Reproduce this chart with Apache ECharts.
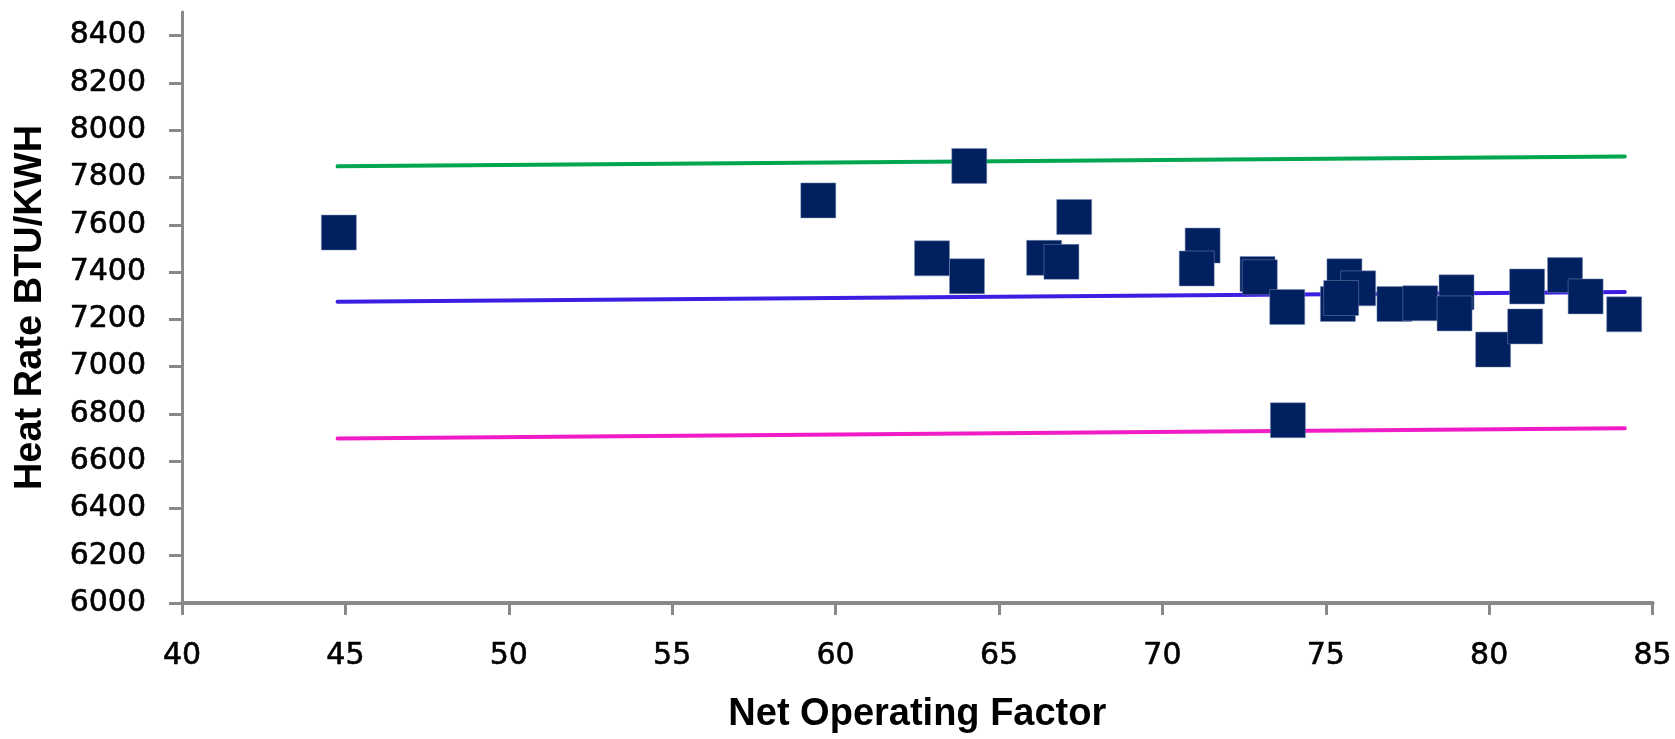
<!DOCTYPE html>
<html>
<head>
<meta charset="utf-8">
<script src="https://cdn.jsdelivr.net/npm/echarts@6/dist/echarts.min.js"></script>
<style>
html,body{margin:0;padding:0;background:#fff;}
#chart{width:1675px;height:739px;}
</style>
</head>
<body>
<div id="chart"></div>
<script>
// Net Operating Factor vs Heat Rate observations
const netOperatingFactor = [44.80, 59.47, 64.09, 62.95, 64.02, 67.30, 66.38, 66.91, 71.23, 71.05,
  72.91, 72.98, 73.82, 73.84, 75.57, 75.99, 75.37, 75.47, 77.10, 77.89, 79.00, 78.94, 80.12,
  81.16, 81.10, 82.32, 82.95, 84.13];
const heatRate = [7567, 7703, 7849, 7458, 7382, 7633, 7460, 7443, 7512, 7415,
  7392, 7378, 7252, 6773, 7382, 7331, 7265, 7290, 7265, 7268, 7314, 7225, 7072,
  7339, 7170, 7387, 7297, 7221];

// Control lines (start / end points)
const lineX = [44.76, 84.15];
const upperLimit = [7847, 7889];
const centerLine = [7274, 7316];
const lowerLimit = [6696, 6739];

const xTicks = [40, 45, 50, 55, 60, 65, 70, 75, 80, 85];
const yTicks = [6000, 6200, 6400, 6600, 6800, 7000, 7200, 7400, 7600, 7800, 8000, 8200, 8400];

const pairs = (xs, ys) => xs.map((x, i) => [x, ys[i]]);

const chart = echarts.init(document.getElementById('chart'), null, {renderer: 'canvas'});

const lineSeries = (data, color) => ({
  type: 'line',
  data: data,
  symbol: 'none',
  z: 2,
  lineStyle: {color: color, width: 4, cap: 'round'},
  silent: true
});

chart.setOption({
  animation: false,
  backgroundColor: '#fff',
  grid: {left: 182, right: 21.5, top: 12, bottom: 135.5, containLabel: false},
  xAxis: {
    type: 'value',
    min: 40, max: 85, interval: 5,
    name: 'Net Operating Factor',
    nameLocation: 'middle',
    nameGap: 93,
    nameTextStyle: {fontFamily: 'Liberation Sans', fontSize: 38, fontWeight: 'bold', color: '#000'},
    axisLine: {show: true, lineStyle: {color: '#898989', width: 4}},
    axisTick: {show: true, inside: false, length: 12, lineStyle: {color: '#898989', width: 3}, customValues: xTicks},
    axisLabel: {
      margin: 38, customValues: xTicks,
      fontFamily: 'DejaVu Sans', fontSize: 30, color: '#000',
      textBorderColor: '#000', textBorderWidth: 0.6,
      formatter: v => String(v)
    },
    splitLine: {show: false}
  },
  yAxis: {
    type: 'value',
    min: 6000, max: 8500, interval: 100,
    name: 'Heat Rate BTU/KWH',
    nameLocation: 'middle',
    nameGap: 132,
    nameRotate: 90,
    nameTextStyle: {fontFamily: 'Liberation Sans', fontSize: 38, fontWeight: 'bold', color: '#000'},
    axisLine: {show: true, lineStyle: {color: '#898989', width: 3}},
    axisTick: {show: true, inside: false, length: 13, lineStyle: {color: '#898989', width: 3}, customValues: yTicks},
    axisLabel: {
      margin: 36, customValues: yTicks,
      fontFamily: 'DejaVu Sans', fontSize: 30, color: '#000',
      textBorderColor: '#000', textBorderWidth: 0.6,
      formatter: v => String(v)
    },
    splitLine: {show: false}
  },
  series: [
    lineSeries(pairs(lineX, upperLimit), '#00A650'),
    lineSeries(pairs(lineX, centerLine), '#3A1FE3'),
    lineSeries(pairs(lineX, lowerLimit), '#F01CC6'),
    {
      type: 'scatter',
      z: 5,
      data: pairs(netOperatingFactor, heatRate),
      symbol: 'rect',
      symbolSize: 35,
      itemStyle: {color: '#002060', borderColor: '#7f8fb5', borderWidth: 0.5, opacity: 1}
    }
  ]
});
</script>
</body>
</html>
